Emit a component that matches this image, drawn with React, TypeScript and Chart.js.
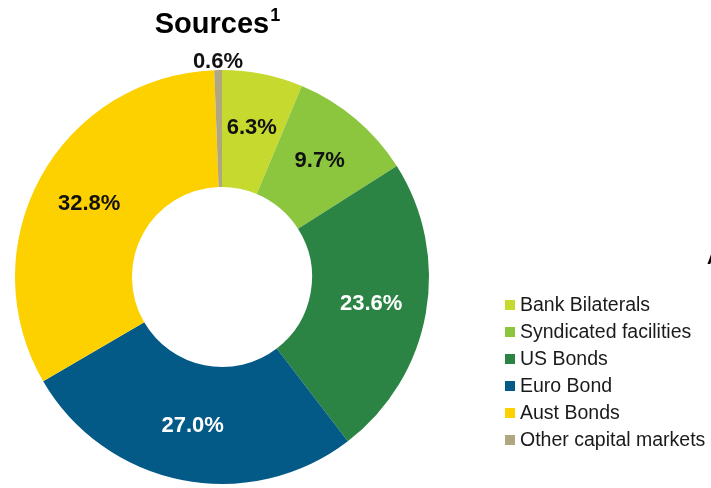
import React, { useEffect, useRef } from "react";
import { Chart, registerables } from "chart.js";

Chart.register(...registerables);

const categories = [
  "Bank Bilaterals",
  "Syndicated facilities",
  "US Bonds",
  "Euro Bond",
  "Aust Bonds",
  "Other capital markets",
];
const shares = [6.3, 9.7, 23.6, 27.0, 32.8, 0.6];
const colors = ["#c6d92f", "#8cc63f", "#2b8443", "#035a87", "#fdd000", "#b0a67f"];
const labelColors = ["#111111", "#111111", "#ffffff", "#ffffff", "#111111", "#111111"];
const titleText = "Sources";
const titleSup = "1";
const sideText = "A";

const FONT = "Arial, 'Liberation Sans', sans-serif";

const overlay = {
  id: "overlay",
  afterDraw(chart: any) {
    const ctx = chart.ctx as CanvasRenderingContext2D;
    const meta = chart.getDatasetMeta(0);
    ctx.save();
    // title
    ctx.fillStyle = "#000";
    ctx.textBaseline = "alphabetic";
    ctx.font = `bold 29px ${FONT}`;
    const tw = ctx.measureText(titleText).width;
    ctx.font = `bold 18px ${FONT}`;
    const sw = ctx.measureText(titleSup).width;
    const tx = 217 - (tw + sw) / 2;
    ctx.font = `bold 29px ${FONT}`;
    ctx.textAlign = "left";
    ctx.fillText(titleText, tx, 33);
    ctx.font = `bold 18px ${FONT}`;
    ctx.fillText(titleSup, tx + tw + 1, 21);

    // slice labels
    ctx.font = `bold 22px ${FONT}`;
    ctx.textAlign = "center";
    ctx.textBaseline = "middle";
    meta.data.forEach((arc: any, i: number) => {
      const v = shares[i];
      const txt = v.toFixed(1) + "%";
      const p = arc.getProps(["x", "y", "startAngle", "endAngle", "innerRadius", "outerRadius"], true);
      const a = (p.startAngle + p.endAngle) / 2;
      const r = v < 2 ? p.outerRadius + 8 : (p.innerRadius + p.outerRadius) / 2 + 3;
      const x = p.x + Math.cos(a) * r;
      const y = p.y + Math.sin(a) * r;
      ctx.fillStyle = labelColors[i];
      ctx.fillText(txt, x, y);
    });

    // legend
    ctx.font = `19.5px ${FONT}`;
    ctx.textAlign = "left";
    ctx.textBaseline = "middle";
    categories.forEach((c, i) => {
      const y = 305 + i * 27;
      ctx.fillStyle = colors[i];
      ctx.fillRect(505, y - 5, 10, 10);
      ctx.fillStyle = "#1a1a1a";
      ctx.fillText(c, 520, y + 1);
    });

    // clipped side text
    ctx.fillStyle = "#000";
    ctx.font = `bold 19px ${FONT}`;
    ctx.textBaseline = "alphabetic";
    ctx.fillText(sideText, 707, 264);
    ctx.restore();
  },
};

export default function App() {
  const ref = useRef<HTMLCanvasElement>(null);
  useEffect(() => {
    if (!ref.current) return;
    const chart = new Chart(ref.current, {
      type: "doughnut",
      data: {
        labels: categories,
        datasets: [
          {
            data: shares,
            backgroundColor: colors,
            borderWidth: 0,
          },
        ],
      },
      options: {
        responsive: false,
        animation: false,
        devicePixelRatio: 1,
        cutout: "43.5%",
        rotation: 0,
        layout: { padding: { left: 15, right: 282, top: 70, bottom: 4 } },
        plugins: {
          legend: { display: false },
          tooltip: { enabled: false },
          title: { display: false },
        },
      },
      plugins: [overlay],
    });
    return () => chart.destroy();
  }, []);
  return (
    <div style={{ position: "absolute", left: 0, top: 0, width: 711, height: 488, background: "#fff" }}>
      <canvas ref={ref} width={711} height={488} />
    </div>
  );
}
